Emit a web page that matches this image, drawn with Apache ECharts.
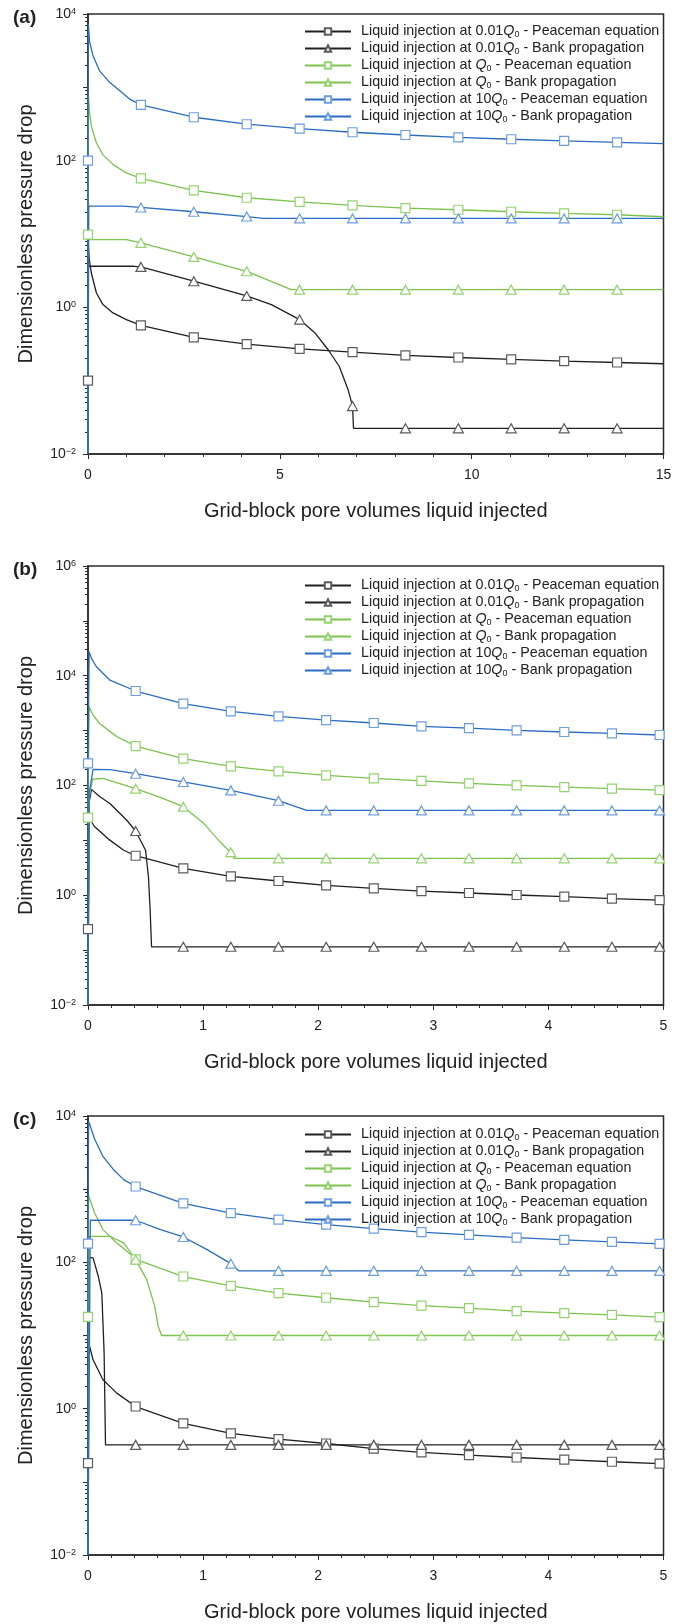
<!DOCTYPE html>
<html>
<head>
<meta charset="utf-8">
<script src="https://cdn.jsdelivr.net/npm/echarts@6/dist/echarts.min.js"></script>
<style>
  html, body { margin: 0; padding: 0; background: #fff; }
  #chart { width: 686px; height: 1624px; }
</style>
</head>
<body>
<div id="chart"></div>
<script>
// legend names (same six curves in every panel)
var seriesNames = [
  'Liquid injection at 0.01Q0 - Peaceman equation',
  'Liquid injection at 0.01Q0 - Bank propagation',
  'Liquid injection at Q0 - Peaceman equation',
  'Liquid injection at Q0 - Bank propagation',
  'Liquid injection at 10Q0 - Peaceman equation',
  'Liquid injection at 10Q0 - Bank propagation'
];
var panelLabels = ['(a)', '(b)', '(c)'];
var xMax = [15, 5, 5];
var xStep = [5, 1, 1];
var yRange = [[0.01, 10000], [0.01, 1000000], [0.01, 10000]];

// ---------- panel (a) ----------
var xMarksA = [1.379, 2.758, 4.137, 5.516, 6.895, 8.274, 9.653, 11.03, 12.41, 13.79];

var aBlackPeaStart = 0.1;
var aBlackPeaPath = [[0.01, 6.8], [0.03, 4.6], [0.087, 2.94], [0.22, 1.57], [0.39, 1.09], [0.65, 0.84], [1.0, 0.68], [15, 0.170]];
var aBlackPeaMarks = [0.568, 0.389, 0.315, 0.272, 0.245, 0.221, 0.207, 0.195, 0.185, 0.177];

var aBlackBankPath = [[0, 0.01], [0.01, 3.63], [1.2, 3.63], [4.78, 1.09], [5.92, 0.446], [6.26, 0.264], [6.55, 0.156], [6.78, 0.075], [6.92, 0.0224], [15, 0.0224]];
var aBlackBankMarks = [3.56, 2.27, 1.43, 0.68, 0.045, 0.0224, 0.0224, 0.0224, 0.0224, 0.0224];

var aGreenPeaStart = 9.8;
var aGreenPeaPath = [[0.01, 807], [0.04, 450], [0.087, 296], [0.22, 174], [0.39, 120], [0.65, 89], [1.0, 68], [15, 17.2]];
var aGreenPeaMarks = [57.4, 39.4, 31.2, 27.5, 24.6, 22.5, 21.4, 20.1, 19.1, 18.3];

var aGreenBankPath = [[0, 0.01], [0.01, 8.4], [1.0, 8.4], [5.3, 1.743], [15, 1.743]];
var aGreenBankMarks = [7.57, 4.87, 3.10, 1.743, 1.743, 1.743, 1.743, 1.743, 1.743, 1.743];

var aBluePeaStart = 100;
var aBluePeaPath = [[0, 0.01], [0.01, 7300], [0.04, 4200], [0.13, 2700], [0.3, 1680], [0.57, 1160], [0.83, 895], [1.09, 689], [15, 171]];
var aBluePeaMarks = [575, 391, 314, 273, 244, 224, 208, 196, 186, 178];

var aBlueBankPath = [[0, 0.01], [0.02, 24], [0.9, 24], [4.56, 16.3], [15, 16.3]];
var aBlueBankMarks = [23.0, 20.1, 17.3, 16.3, 16.3, 16.3, 16.3, 16.3, 16.3, 16.3];

// ---------- panel (b) ----------
var xMarksB = [0.414, 0.828, 1.241, 1.655, 2.069, 2.483, 2.897, 3.310, 3.724, 4.138, 4.552, 4.966];

var bBlackPeaStart = 0.242;
var bBlackPeaPath = [[0.012, 25], [0.058, 17.7], [0.19, 10.1], [0.31, 6.6], [5, 0.81]];
var bBlackPeaMarks = [5.25, 3.09, 2.21, 1.82, 1.51, 1.33, 1.19, 1.10, 1.01, 0.94, 0.865, 0.817];

var bBlackBankPath = [[0, 0.01], [0.01, 50], [0.03, 85], [0.1, 63], [0.19, 47], [0.335, 23.5], [0.5, 6.6], [0.525, 2.2], [0.54, 0.54], [0.552, 0.115], [5, 0.115]];
var bBlackBankMarks = [14.8, 0.115, 0.115, 0.115, 0.115, 0.115, 0.115, 0.115, 0.115, 0.115, 0.115, 0.115];

var bGreenPeaStart = 26;
var bGreenPeaPath = [[0.01, 2730], [0.044, 1920], [0.1, 1350], [0.25, 777], [5, 82]];
var bGreenPeaMarks = [524, 308, 223, 181, 153, 135, 121, 109, 100.5, 93.7, 87.5, 82.6];

var bGreenBankPath = [[0, 0.01], [0.01, 60], [0.04, 130], [0.13, 135], [0.627, 60.8], [1.006, 20.4], [1.12, 10.9], [1.195, 7.4], [1.27, 4.7], [5, 4.7]];
var bGreenBankMarks = [87.5, 41.1, 6.1, 4.7, 4.7, 4.7, 4.7, 4.7, 4.7, 4.7, 4.7, 4.7];

var bBluePeaStart = 253;
var bBluePeaPath = [[0, 0.01], [0.01, 27500], [0.03, 20700], [0.073, 14600], [0.19, 8300], [5, 825]];
var bBluePeaMarks = [5270, 3100, 2245, 1820, 1560, 1376, 1197, 1115, 1011, 944, 892, 832];

var bBlueBankPath = [[0, 0.01], [0.01, 72], [0.044, 197], [0.19, 195], [1.9, 35.2], [5, 35.2]];
var bBlueBankMarks = [164, 116, 81.5, 52.8, 35.2, 35.2, 35.2, 35.2, 35.2, 35.2, 35.2, 35.2];

// ---------- panel (c) ----------
var xMarksC = [0.414, 0.828, 1.241, 1.655, 2.069, 2.483, 2.897, 3.310, 3.724, 4.138, 4.552, 4.966];

var cBlackPeaStart = 0.18;
var cBlackPeaPath = [[0.005, 8.05], [0.044, 4.66], [0.13, 2.48], [0.25, 1.63], [5, 0.176]];
var cBlackPeaMarks = [1.07, 0.63, 0.459, 0.383, 0.334, 0.285, 0.252, 0.232, 0.215, 0.201, 0.188, 0.177];

var cBlackBankPath = [[0, 0.01], [0.01, 117], [0.044, 115], [0.09, 64], [0.12, 38], [0.14, 5.8], [0.152, 0.32], [5, 0.32]];
var cBlackBankMarks = [0.32, 0.32, 0.32, 0.32, 0.32, 0.32, 0.32, 0.32, 0.32, 0.32, 0.32, 0.32];

var cGreenPeaStart = 18;
var cGreenPeaPath = [[0.005, 817], [0.058, 473], [0.13, 280], [0.25, 184], [0.39, 121], [5, 17.6]];
var cGreenPeaMarks = [110, 64, 47.7, 38, 32.8, 28.6, 25.6, 23.6, 21.6, 20.2, 19.1, 17.8];

var cGreenBankPath = [[0, 0.01], [0.01, 227], [0.19, 227], [0.31, 184], [0.51, 58], [0.58, 25], [0.61, 13.3], [0.64, 10], [5, 10]];
var cGreenBankMarks = [109, 10, 10, 10, 10, 10, 10, 10, 10, 10, 10, 10];

var cBluePeaStart = 180;
var cBluePeaPath = [[0, 0.01], [0.005, 8500], [0.058, 4800], [0.13, 2800], [0.22, 1860], [0.31, 1350], [5, 177]];
var cBluePeaMarks = [1087, 638, 470, 383, 327, 288, 258, 238, 217, 203, 190, 179];

var cBlueBankPath = [[0, 0.01], [0.02, 376], [0.63, 280], [1.035, 149], [1.31, 76.5], [5, 76.5]];
var cBlueBankMarks = [376, 222, 96, 76.5, 76.5, 76.5, 76.5, 76.5, 76.5, 76.5, 76.5, 76.5];

var panels = [
  { xMarks: xMarksA, curves: [
    { path: aBlackPeaPath, marks: aBlackPeaMarks, start: aBlackPeaStart },
    { path: aBlackBankPath, marks: aBlackBankMarks },
    { path: aGreenPeaPath, marks: aGreenPeaMarks, start: aGreenPeaStart },
    { path: aGreenBankPath, marks: aGreenBankMarks },
    { path: aBluePeaPath, marks: aBluePeaMarks, start: aBluePeaStart },
    { path: aBlueBankPath, marks: aBlueBankMarks }
  ]},
  { xMarks: xMarksB, curves: [
    { path: bBlackPeaPath, marks: bBlackPeaMarks, start: bBlackPeaStart },
    { path: bBlackBankPath, marks: bBlackBankMarks },
    { path: bGreenPeaPath, marks: bGreenPeaMarks, start: bGreenPeaStart },
    { path: bGreenBankPath, marks: bGreenBankMarks },
    { path: bBluePeaPath, marks: bBluePeaMarks, start: bBluePeaStart },
    { path: bBlueBankPath, marks: bBlueBankMarks }
  ]},
  { xMarks: xMarksC, curves: [
    { path: cBlackPeaPath, marks: cBlackPeaMarks, start: cBlackPeaStart },
    { path: cBlackBankPath, marks: cBlackBankMarks },
    { path: cGreenPeaPath, marks: cGreenPeaMarks, start: cGreenPeaStart },
    { path: cGreenBankPath, marks: cGreenBankMarks },
    { path: cBluePeaPath, marks: cBluePeaMarks, start: cBluePeaStart },
    { path: cBlueBankPath, marks: cBlueBankMarks }
  ]}
];

// line colour, marker edge colour, marker shape
var curveStyles = [
  { line: '#231f20', mark: '#5c5c5c', symbol: 'rect', size: 9 },
  { line: '#231f20', mark: '#5c5c5c', symbol: 'triangle', size: [10, 9] },
  { line: '#7cc24e', mark: '#93d46e', symbol: 'rect', size: 9 },
  { line: '#7cc24e', mark: '#93d46e', symbol: 'triangle', size: [10, 9] },
  { line: '#2a6cc3', mark: '#6d9de2', symbol: 'rect', size: 9 },
  { line: '#2a6cc3', mark: '#6d9de2', symbol: 'triangle', size: [10, 9] }
];

var grids = [
  { top: 14, height: 440 },
  { top: 566, height: 439 },
  { top: 1116, height: 439 }
];
var legendTops = [19, 573, 1122];
var font = 'Liberation Sans, Arial, sans-serif';

// line points without symbol + marker points, ordered along x
function buildData(curve, xMarks) {
  var pts = curve.path.map(function(p) {
    return { value: p, symbol: 'none' };
  });
  xMarks.forEach(function(x, i) {
    pts.push({ value: [x, curve.marks[i]] });
  });
  if (curve.start != null) pts.push({ value: [0, curve.start] });
  pts.sort(function(p, q) {
    return (p.value[0] - q.value[0]) || (p.value[1] - q.value[1]);
  });
  return pts;
}

// minor ticks of a log axis, in log10 units
function minorLogTicks(range) {
  var lo = Math.round(Math.log10(range[0]));
  var hi = Math.round(Math.log10(range[1]));
  var out = [];
  for (var e = lo; e < hi; e++) {
    for (var m = 2; m <= 9; m++) out.push(e + Math.log10(m));
  }
  return out;
}

var myChart = echarts.init(document.getElementById('chart'), null, { renderer: 'canvas' });

var option = {
  animation: false,
  backgroundColor: '#fff',
  textStyle: { fontFamily: font },
  grid: [],
  xAxis: [],
  yAxis: [],
  legend: [],
  series: [],
  graphic: []
};

for (var p = 0; p < 3; p++) {
  option.grid.push({
    left: 88, width: 575.5, top: grids[p].top, height: grids[p].height,
    show: true, borderColor: '#2b2b2b', borderWidth: 1.5, backgroundColor: 'transparent'
  });

  option.xAxis.push({
    type: 'value', gridIndex: p, min: 0, max: xMax[p], interval: xStep[p],
    name: 'Grid-block pore volumes liquid injected',
    nameLocation: 'middle', nameGap: 47,
    nameTextStyle: { fontSize: 20, color: '#222', fontFamily: font },
    axisLine: { onZero: false, lineStyle: { color: '#2b2b2b', width: 1.5 } },
    axisTick: { length: 5, lineStyle: { color: '#2b2b2b' } },
    minorTick: { show: true, splitNumber: 5, length: 3, lineStyle: { color: '#2b2b2b' } },
    axisLabel: { fontSize: 14, color: '#222', margin: 14, fontFamily: font },
    splitLine: { show: false }
  });

  option.yAxis.push({
    type: 'log', logBase: 10, gridIndex: p, min: yRange[p][0], max: yRange[p][1],
    name: 'Dimensionless pressure drop',
    nameLocation: 'middle', nameGap: 52,
    nameTextStyle: { fontSize: 20, color: '#222', fontFamily: font },
    axisLine: { onZero: false, lineStyle: { color: '#2b2b2b', width: 1.5 } },
    axisTick: { length: 5, lineStyle: { color: '#2b2b2b' } },
    splitLine: { show: false },
    axisLabel: {
      margin: 12, color: '#222', fontSize: 14, fontFamily: font,
      formatter: function(v) {
        var e = Math.round(Math.log10(v));
        if (e % 2 !== 0) return '';
        return '10{sup|' + (e < 0 ? '\u2212' + (-e) : e) + '}';
      },
      rich: { sup: { fontSize: 9, verticalAlign: 'top', color: '#222', fontFamily: font } }
    }
  });

  option.legend.push({
    orient: 'vertical', left: 299, top: legendTops[p],
    itemWidth: 46, itemHeight: 8, itemGap: 2,
    selectedMode: false,
    data: seriesNames,
    textStyle: {
      fontSize: 14.3, lineHeight: 15, color: '#222', fontFamily: font, padding: [0, 0, 0, 5],
      rich: {
        q: { fontStyle: 'italic', fontSize: 14.3, color: '#222' },
        s: { fontSize: 9, verticalAlign: 'bottom', color: '#222' }
      }
    },
    formatter: function(name) {
      return name.replace('Q0', '{q|Q}{s|0}');
    }
  });

  option.graphic.push({
    type: 'text', left: 13, top: grids[p].top - 6,
    style: { text: panelLabels[p], font: 'bold 19px ' + font, fill: '#222' }
  });

  panels[p].curves.forEach(function(curve, k) {
    var st = curveStyles[k];
    option.series.push({
      name: seriesNames[k],
      type: 'line',
      xAxisIndex: p, yAxisIndex: p,
      data: buildData(curve, panels[p].xMarks),
      symbol: st.symbol, symbolSize: st.size,
      showSymbol: true, showAllSymbol: true,
      lineStyle: { color: st.line, width: 1.3 },
      itemStyle: { color: '#fff', borderColor: st.mark, borderWidth: 1.2 },
      emphasis: { disabled: true },
      clip: true
    });
  });
}

// helper axes that only draw the log minor ticks
for (var p2 = 0; p2 < 3; p2++) {
  var lo = Math.round(Math.log10(yRange[p2][0]));
  var hi = Math.round(Math.log10(yRange[p2][1]));
  option.yAxis.push({
    type: 'value', gridIndex: p2, min: lo, max: hi, position: 'left',
    axisLine: { show: false, onZero: false },
    axisLabel: { show: false },
    splitLine: { show: false },
    axisTick: { show: true, length: 3, customValues: minorLogTicks(yRange[p2]), lineStyle: { color: '#2b2b2b' } }
  });
}

myChart.setOption(option);
window.addEventListener('resize', function() {
  myChart.resize();
});
</script>
</body>
</html>
